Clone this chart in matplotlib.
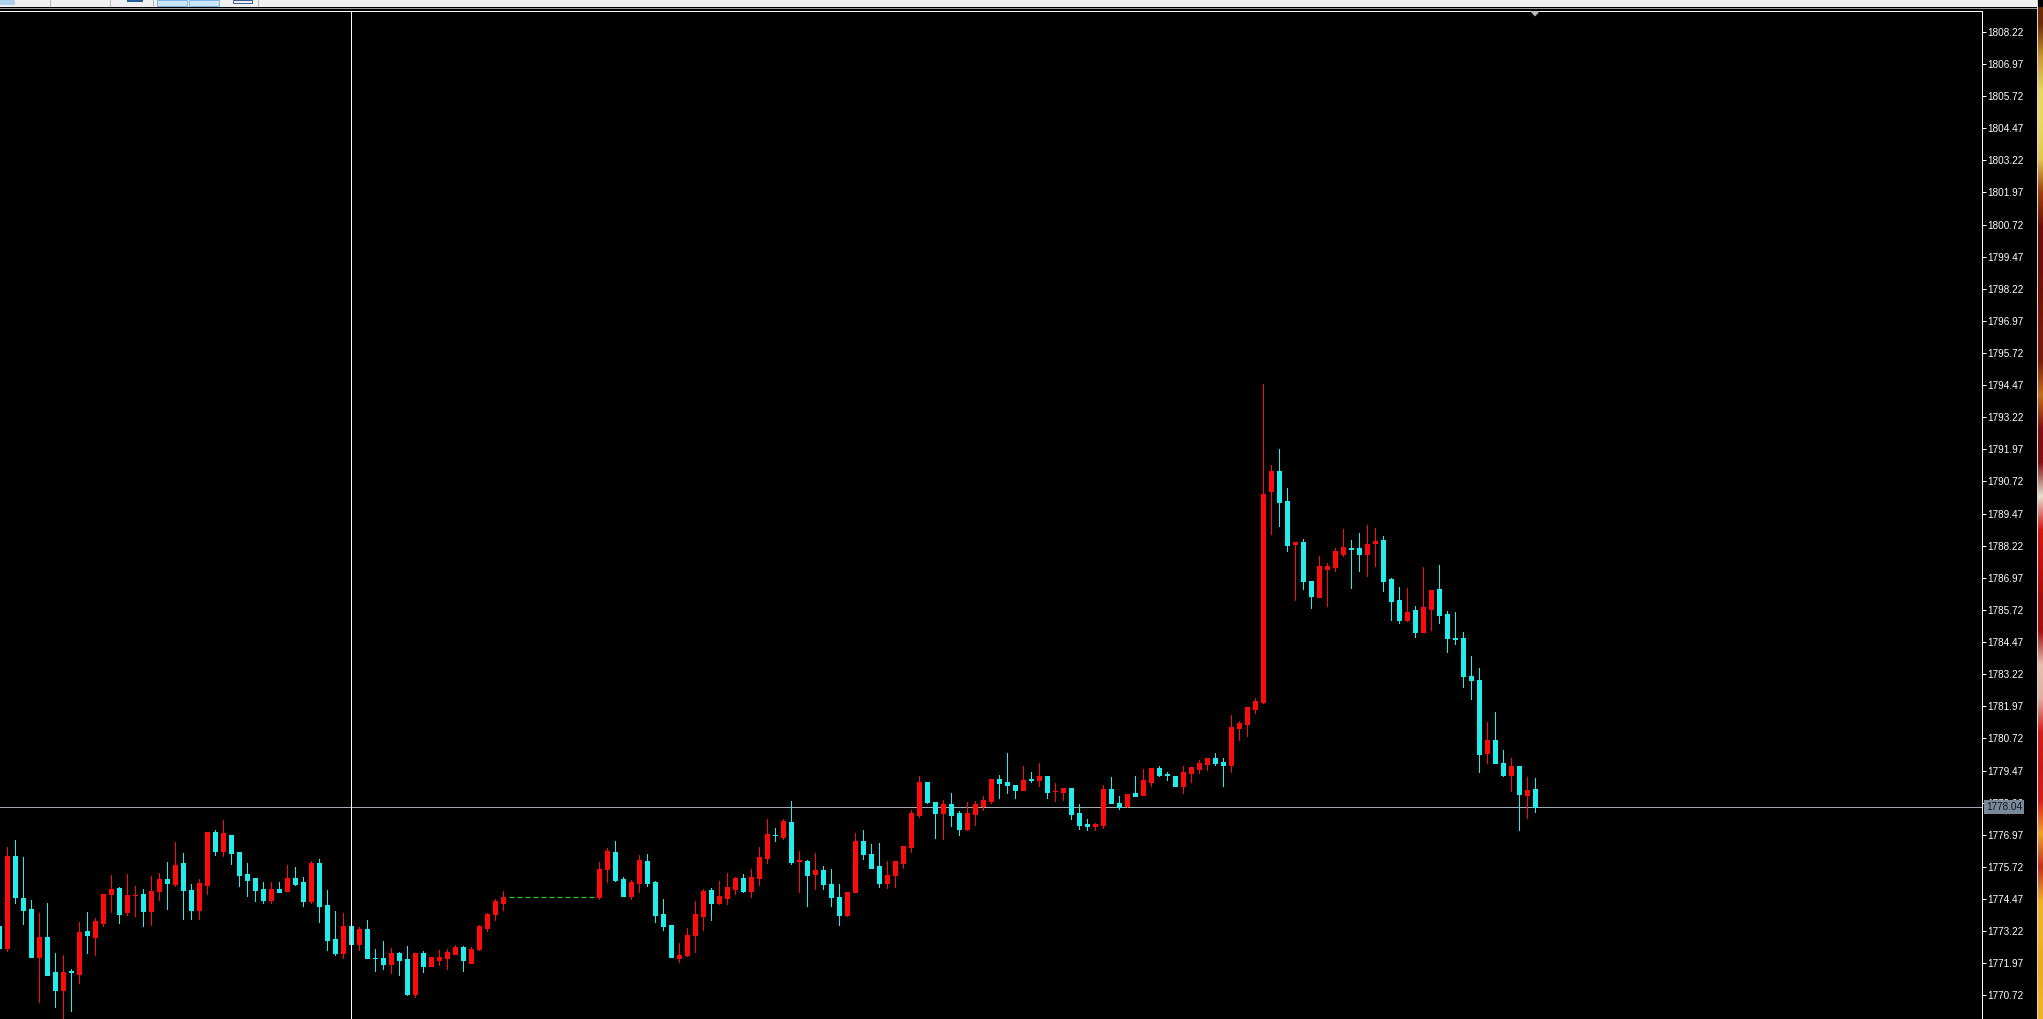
import numpy as np
import matplotlib
matplotlib.use('Agg')
import matplotlib.pyplot as plt
from matplotlib.patches import Rectangle, Polygon
from matplotlib.lines import Line2D

W, H = 2043, 1019

# bar index of the first (partly hidden) candle
first_bar = -1

opens = [
    1773.43, 1772.58, 1776.15, 1774.51, 1774.08, 1772.23, 1773.01, 1771.61, 1770.93, 1771.66,
    1771.57, 1773.22, 1773.01, 1773.55, 1774.68, 1774.88, 1773.97, 1774.62, 1774.67, 1774.02,
    1774.80, 1775.25, 1775.06, 1775.89, 1774.83, 1774.05, 1775.02, 1777.06, 1776.32, 1776.98,
    1776.28, 1775.45, 1775.28, 1774.87, 1774.44, 1774.87, 1774.80, 1775.28, 1775.15, 1774.41,
    1775.89, 1774.24, 1772.90, 1772.36, 1773.43, 1772.72, 1773.30, 1772.19, 1772.16, 1771.93,
    1772.36, 1772.12, 1770.77, 1772.37, 1771.88, 1772.10, 1772.19, 1772.33, 1772.61, 1771.99,
    1772.52, 1773.35, 1773.87, 1774.33, 1774.53, 1774.53, 1774.53, 1774.53, 1774.53, 1774.53,
    1774.53, 1774.53, 1774.53, 1774.53, 1774.53, 1774.53, 1775.64, 1776.31, 1775.25, 1774.60,
    1775.10, 1775.95, 1775.13, 1773.87, 1773.46, 1772.16, 1772.29, 1773.05, 1773.82, 1774.82,
    1774.33, 1774.52, 1774.86, 1775.30, 1774.78, 1775.30, 1776.06, 1776.98, 1776.87, 1777.47,
    1775.96, 1775.95, 1775.45, 1775.60, 1775.06, 1774.54, 1773.85, 1774.73, 1776.73, 1776.22,
    1775.76, 1775.11, 1775.41, 1775.89, 1776.48, 1777.74, 1779.04, 1778.26, 1777.83, 1778.17,
    1777.83, 1777.21, 1777.78, 1778.10, 1778.29, 1779.14, 1779.04, 1778.91, 1778.72, 1779.13,
    1779.11, 1779.26, 1778.67, 1778.65, 1778.78, 1777.81, 1777.39, 1777.32, 1777.35, 1778.74,
    1778.20, 1778.09, 1778.59, 1778.52, 1779.04, 1779.56, 1779.32, 1779.26, 1778.88, 1779.39,
    1779.53, 1779.73, 1779.95, 1779.82, 1779.69, 1781.12, 1781.29, 1781.87, 1782.13, 1790.33,
    1791.11, 1789.96, 1788.28, 1788.38, 1786.86, 1786.24, 1787.32, 1787.41, 1787.90, 1788.12,
    1788.15, 1787.90, 1788.32, 1788.45, 1786.93, 1786.11, 1785.33, 1785.72, 1784.88, 1785.75,
    1786.53, 1785.57, 1784.62, 1784.62, 1783.16, 1783.00, 1780.14, 1780.64, 1779.78, 1779.30,
    1779.65, 1778.52, 1778.74,
]
highs = [
    1773.70, 1776.51, 1776.77, 1776.09, 1774.44, 1773.94, 1774.31, 1772.36, 1772.30, 1771.74,
    1773.58, 1773.97, 1773.72, 1774.67, 1775.40, 1774.93, 1775.45, 1774.98, 1774.85, 1775.37,
    1775.47, 1775.91, 1776.67, 1776.25, 1775.06, 1775.24, 1777.07, 1777.16, 1777.55, 1776.98,
    1776.28, 1775.86, 1775.28, 1775.14, 1775.14, 1775.14, 1775.80, 1775.71, 1775.32, 1775.93,
    1776.02, 1774.83, 1774.02, 1773.94, 1773.43, 1773.39, 1773.65, 1772.51, 1772.85, 1772.58,
    1772.42, 1772.64, 1772.38, 1772.45, 1772.23, 1772.49, 1772.51, 1772.69, 1772.64, 1772.61,
    1773.46, 1773.94, 1774.48, 1774.78, 1774.53, 1774.53, 1774.53, 1774.53, 1774.53, 1774.53,
    1774.53, 1774.53, 1774.53, 1774.53, 1774.53, 1775.92, 1776.44, 1776.73, 1775.31, 1775.21,
    1776.18, 1776.22, 1775.17, 1774.46, 1773.46, 1772.75, 1773.33, 1774.41, 1774.85, 1774.91,
    1775.17, 1775.47, 1775.34, 1775.43, 1775.63, 1776.51, 1777.59, 1777.22, 1777.59, 1778.29,
    1776.34, 1775.99, 1776.25, 1775.76, 1775.63, 1775.04, 1774.73, 1777.03, 1777.16, 1776.60,
    1776.64, 1775.96, 1775.96, 1776.54, 1777.94, 1779.27, 1779.04, 1778.26, 1778.33, 1778.61,
    1777.91, 1778.26, 1778.30, 1778.46, 1779.14, 1779.30, 1780.14, 1778.91, 1779.66, 1779.40,
    1779.75, 1779.26, 1778.98, 1778.78, 1778.78, 1778.17, 1777.57, 1777.42, 1778.91, 1779.21,
    1778.46, 1778.56, 1779.24, 1779.53, 1779.56, 1779.65, 1779.40, 1779.26, 1779.65, 1779.60,
    1779.88, 1779.97, 1780.14, 1779.95, 1781.64, 1781.38, 1781.96, 1782.31, 1794.50, 1791.36,
    1791.97, 1790.46, 1788.38, 1788.47, 1786.86, 1787.82, 1787.56, 1788.12, 1788.86, 1788.45,
    1788.73, 1789.03, 1788.90, 1788.60, 1786.95, 1786.63, 1786.59, 1785.88, 1787.38, 1786.50,
    1787.47, 1785.66, 1785.63, 1784.88, 1783.93, 1783.45, 1781.34, 1781.75, 1780.27, 1779.95,
    1779.65, 1779.23, 1779.17,
]
lows = [
    1772.45, 1772.46, 1774.33, 1773.50, 1772.23, 1770.48, 1771.53, 1770.26, 1769.70, 1770.13,
    1771.22, 1772.36, 1772.30, 1773.42, 1773.98, 1773.55, 1773.84, 1773.81, 1773.40, 1773.46,
    1774.44, 1774.10, 1774.98, 1773.69, 1773.71, 1773.69, 1774.67, 1776.19, 1776.15, 1775.83,
    1774.96, 1774.59, 1774.41, 1774.33, 1774.33, 1774.75, 1774.80, 1775.02, 1774.20, 1774.33,
    1773.59, 1772.49, 1772.30, 1772.17, 1772.72, 1772.49, 1772.19, 1771.68, 1771.76, 1771.58,
    1771.51, 1770.73, 1770.67, 1771.64, 1771.88, 1771.90, 1771.75, 1772.33, 1771.68, 1771.99,
    1772.49, 1773.24, 1773.65, 1774.04, 1774.53, 1774.53, 1774.53, 1774.53, 1774.53, 1774.53,
    1774.53, 1774.53, 1774.53, 1774.53, 1774.53, 1774.46, 1775.14, 1775.18, 1774.60, 1774.47,
    1774.75, 1774.98, 1773.59, 1773.26, 1772.23, 1772.00, 1772.25, 1772.39, 1773.27, 1773.66,
    1774.28, 1774.28, 1774.67, 1774.73, 1774.53, 1775.02, 1775.86, 1776.74, 1776.79, 1775.83,
    1774.76, 1774.21, 1774.86, 1774.86, 1774.21, 1773.44, 1773.82, 1774.73, 1776.02, 1775.69,
    1774.95, 1774.89, 1774.93, 1775.67, 1776.31, 1777.68, 1778.20, 1776.86, 1776.79, 1777.31,
    1776.96, 1777.16, 1777.35, 1777.92, 1778.20, 1778.42, 1778.61, 1778.42, 1778.72, 1779.04,
    1778.85, 1778.42, 1778.30, 1778.33, 1777.57, 1777.19, 1777.16, 1777.16, 1777.22, 1778.20,
    1777.96, 1778.07, 1778.46, 1778.52, 1778.85, 1779.24, 1779.10, 1778.85, 1778.61, 1779.04,
    1779.36, 1779.49, 1779.69, 1778.87, 1779.43, 1780.64, 1780.82, 1781.70, 1782.09, 1788.68,
    1789.00, 1788.03, 1786.09, 1786.53, 1785.81, 1786.24, 1785.88, 1787.25, 1787.82, 1786.57,
    1787.25, 1787.05, 1787.43, 1786.47, 1785.33, 1785.23, 1785.29, 1784.68, 1784.88, 1784.94,
    1785.23, 1784.10, 1784.40, 1782.74, 1782.26, 1779.43, 1779.75, 1779.75, 1779.26, 1778.69,
    1777.16, 1777.61, 1777.87,
]
closes = [
    1772.58, 1776.15, 1774.53, 1774.05, 1772.23, 1772.98, 1771.53, 1770.91, 1771.64, 1771.62,
    1773.19, 1773.05, 1773.62, 1774.67, 1774.85, 1773.90, 1774.63, 1774.63, 1774.02, 1774.79,
    1775.25, 1775.08, 1775.80, 1774.83, 1774.05, 1775.08, 1777.07, 1776.32, 1777.03, 1776.25,
    1775.41, 1775.21, 1774.83, 1774.44, 1774.87, 1774.75, 1775.28, 1775.06, 1774.41, 1775.89,
    1774.18, 1772.88, 1772.36, 1773.43, 1772.72, 1773.30, 1772.19, 1772.17, 1771.93, 1772.36,
    1772.10, 1770.77, 1772.36, 1771.88, 1772.20, 1772.20, 1772.41, 1772.61, 1772.10, 1772.52,
    1773.43, 1773.90, 1774.40, 1774.56, 1774.53, 1774.53, 1774.53, 1774.53, 1774.53, 1774.53,
    1774.53, 1774.53, 1774.53, 1774.53, 1774.53, 1775.64, 1776.34, 1775.21, 1774.60, 1775.13,
    1775.99, 1775.11, 1773.85, 1773.43, 1772.23, 1772.29, 1773.07, 1773.89, 1774.78, 1774.33,
    1774.59, 1774.95, 1775.30, 1774.78, 1775.34, 1776.09, 1777.00, 1776.96, 1777.52, 1775.90,
    1775.99, 1775.41, 1775.60, 1775.06, 1774.53, 1773.83, 1774.73, 1776.73, 1776.22, 1775.69,
    1775.08, 1775.41, 1775.93, 1776.54, 1777.81, 1779.04, 1778.23, 1777.83, 1778.17, 1777.74,
    1777.18, 1777.83, 1778.17, 1778.33, 1779.14, 1779.00, 1778.91, 1778.72, 1779.11, 1779.11,
    1779.26, 1778.65, 1778.68, 1778.78, 1777.78, 1777.35, 1777.32, 1777.39, 1778.74, 1778.20,
    1778.04, 1778.56, 1778.48, 1779.11, 1779.56, 1779.30, 1779.28, 1778.88, 1779.40, 1779.60,
    1779.78, 1779.95, 1779.75, 1779.69, 1781.18, 1781.31, 1781.96, 1782.19, 1790.24, 1791.11,
    1789.94, 1788.25, 1788.38, 1786.86, 1786.28, 1787.43, 1787.43, 1788.00, 1788.16, 1788.10,
    1787.90, 1788.29, 1788.41, 1786.86, 1786.05, 1785.33, 1785.63, 1784.88, 1785.85, 1786.50,
    1785.53, 1784.62, 1784.60, 1783.13, 1783.00, 1780.12, 1780.66, 1779.78, 1779.30, 1779.65,
    1778.56, 1778.72, 1778.04,
]

price_ticks = [
    1770.72, 1771.97, 1773.22, 1774.47, 1775.72, 1776.97, 1778.22, 1779.47,
    1780.72, 1781.97, 1783.22, 1784.47, 1785.72, 1786.97, 1788.22, 1789.47,
    1790.72, 1791.97, 1793.22, 1794.47, 1795.72, 1796.97, 1798.22, 1799.47,
    1800.72, 1801.97, 1803.22, 1804.47, 1805.72, 1806.97, 1808.22,
]
bid = 1778.04
cursor_bar = 43

BULL = '#ff0a0a'
BEAR = '#22ecec'
FLAT = '#30c830'
PX = 0.72  # one pixel in points at 100 dpi


def fx(x):
    return x / W


def fy(y):
    # y measured from the top of the picture
    return 1 - y / H


fig = plt.figure(figsize=(W / 100, H / 100), dpi=100)
fig.patch.set_facecolor('black')

# --- chart window ---
ax = fig.add_axes([0, 0, fx(1982), 1 - 11 / H])
ax.set_facecolor('black')
ax.set_xlim(-7.33 / 8, (1982 - 7.33) / 8)
ax.set_ylim(1769.80, 1809.03)

o = np.array(opens)
h = np.array(highs)
l = np.array(lows)
c = np.array(closes)
bars = np.arange(first_bar, first_bar + len(o))

flat = h == l
up = (c >= o) & ~flat
dn = (c < o) & ~flat

for mask, col in ((up, BULL), (dn, BEAR)):
    ax.vlines(bars[mask], l[mask], h[mask], color=col, lw=PX, antialiased=False, zorder=3)
    ax.bar(bars[mask], np.abs(c - o)[mask], bottom=np.minimum(o, c)[mask], width=0.5,
           color=col, edgecolor=col, linewidth=PX, antialiased=False, zorder=3)
ax.hlines(o[flat], bars[flat] - 0.31, bars[flat] + 0.31, color=FLAT, lw=PX * 1.2, zorder=3)

ax.axhline(bid, color='#a3abb3', lw=PX, zorder=2)
ax.axvline(cursor_bar, color='white', lw=PX, zorder=4)

for side in ('left', 'bottom'):
    ax.spines[side].set_visible(False)
for side in ('top', 'right'):
    ax.spines[side].set_color('white')
    ax.spines[side].set_linewidth(PX)

ax.set_xticks([])
ax.yaxis.tick_right()
ax.set_yticks(price_ticks)
ax.set_yticklabels([f'{t:.2f}' for t in price_ticks], family='Liberation Sans')
ax.tick_params(axis='y', direction='out', length=3, width=PX, color='white',
               pad=1, labelsize=7.2, labelcolor='white')

ax.annotate(f'{bid:.2f}', xy=(1, bid), xycoords=('axes fraction', 'data'),
            xytext=(4, 0), textcoords='offset pixels', ha='left', va='center',
            fontsize=7.2, family='Liberation Sans', color='#0c1a28', zorder=10,
            annotation_clip=False,
            bbox=dict(boxstyle='square,pad=0.18', fc='#7b8896', ec='none'))

# chart shift marker
fig.add_artist(Polygon([(fx(1530), fy(11)), (fx(1540), fy(11)), (fx(1535), fy(16.5))],
                       closed=True, fc='#b4bcc4', ec='none'))

# --- window chrome: toolbar strip on top ---
fig.add_artist(Rectangle((0, fy(7)), fx(2037), 7 / H, fc='#f0f0f0', ec='none'))
fig.add_artist(Line2D([0, fx(2037)], [fy(7.5), fy(7.5)], color='#9a9a9a', lw=PX))
fig.add_artist(Rectangle((0, fy(5)), fx(15), 5 / H, fc='#b0d0ee', ec='none'))
for sx in (50, 110, 153, 258):
    fig.add_artist(Line2D([fx(sx), fx(sx)], [fy(0), fy(6)], color='#b8b8b8', lw=PX))
fig.add_artist(Rectangle((fx(127), fy(2)), fx(16), 2 / H, fc='#2a5a9a', ec='none'))
for bx in (157, 189):
    fig.add_artist(Rectangle((fx(bx), fy(6)), fx(30), 6 / H, fc='#cce4f7', ec='#7eb4ea', lw=PX))
fig.add_artist(Rectangle((fx(233), fy(3)), fx(19), 3 / H, fc='none', ec='#3a5f9a', lw=PX))

# --- desktop showing through on the far right ---
wall = ['#6b2a0a', '#c89a30', '#e8d860', '#e8d860', '#e0c850', '#a04010', '#6a1208', '#6a1208',
        '#701408', '#7a1a0a', '#7a1a0a', '#c07020', '#801010', '#801010', '#e8e0d0', '#d01818',
        '#c01414', '#a01010', '#a01010', '#e8c0b0', '#e0b0a0', '#d02020', '#c81c1c', '#d02020',
        '#f0a030', '#c03020', '#f0b030', '#f0b030', '#e8a828', '#f0b030']
rgb = np.array([matplotlib.colors.to_rgb(col) for col in wall]).reshape(-1, 1, 3)
wax = fig.add_axes([fx(2038), 0, fx(5), fy(7)])
wax.imshow(rgb, aspect='auto', interpolation='bilinear')
wax.set_axis_off()
fig.add_artist(Line2D([fx(2037), fx(2037)], [0, 1], color='#d8d8d8', lw=PX))

fig.savefig('out.png', dpi=100, facecolor='black')
